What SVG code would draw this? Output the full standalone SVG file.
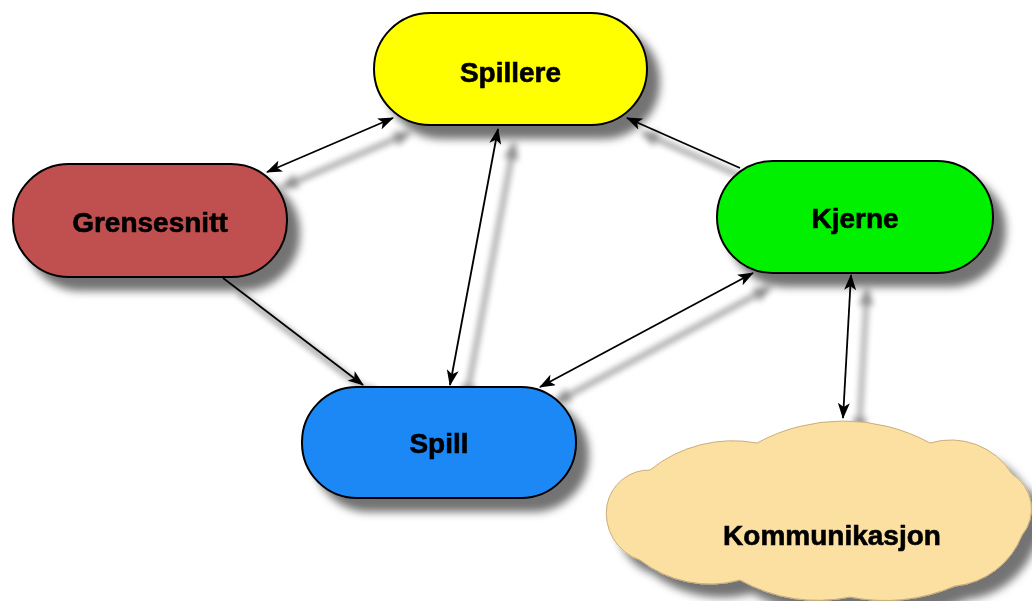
<svg xmlns="http://www.w3.org/2000/svg" width="1032" height="601" viewBox="0 0 1032 601">
  <defs>
    <filter id="shadow" x="-20%" y="-20%" width="150%" height="160%">
      <feDropShadow dx="12" dy="13" stdDeviation="4" flood-color="#000" flood-opacity="0.55"/>
    </filter>
    <filter id="lineShadow" x="-20%" y="-20%" width="150%" height="150%">
      <feMorphology in="SourceAlpha" operator="dilate" radius="1" result="thick"/>
      <feGaussianBlur in="thick" stdDeviation="3" result="blur"/>
      <feOffset in="blur" dx="16" dy="15" result="off"/>
      <feComponentTransfer in="off" result="soft">
        <feFuncA type="linear" slope="0.45"/>
      </feComponentTransfer>
      <feMerge>
        <feMergeNode in="soft"/>
        <feMergeNode in="SourceGraphic"/>
      </feMerge>
    </filter>
    <marker id="arrow" markerUnits="userSpaceOnUse" markerWidth="16" markerHeight="12" viewBox="0 0 16 12" refX="15" refY="6" orient="auto-start-reverse">
      <path d="M0,0 L16,6 L0,12 L4,6 z" fill="#000"/>
    </marker>
    <style>
      .pill { stroke: #000; stroke-width: 2; }
      .label { font-family: "Liberation Sans", Arial, sans-serif; font-weight: bold; font-size: 28px; fill: #000; stroke: #000; stroke-width: 0.6; text-anchor: middle; }
      .conn { stroke: #000; stroke-width: 1.8; fill: none; }
    </style>
  </defs>

  <rect width="1032" height="601" fill="#fff"/>

  <!-- connectors -->
  <g id="connectors" filter="url(#lineShadow)">
    <line class="conn" x1="267" y1="172" x2="393" y2="118" marker-start="url(#arrow)" marker-end="url(#arrow)"/>
    <line class="conn" x1="498" y1="129" x2="450" y2="385" marker-start="url(#arrow)" marker-end="url(#arrow)"/>
    <line class="conn" x1="223" y1="278" x2="363" y2="385" marker-end="url(#arrow)"/>
    <line class="conn" x1="740" y1="168" x2="627" y2="118" marker-end="url(#arrow)"/>
    <line class="conn" x1="540" y1="387" x2="753" y2="273" marker-start="url(#arrow)" marker-end="url(#arrow)"/>
    <line class="conn" x1="851" y1="275" x2="843" y2="418" marker-start="url(#arrow)" marker-end="url(#arrow)"/>
  </g>

  <!-- nodes -->
  <g id="spillere" filter="url(#shadow)">
    <rect class="pill" x="374" y="13" width="273" height="112" rx="56" fill="#ffff00"/>
    <text class="label" x="510.5" y="82">Spillere</text>
  </g>

  <g id="grensesnitt" filter="url(#shadow)">
    <rect class="pill" x="13" y="164" width="274" height="113" rx="56" fill="#c0504f"/>
    <text class="label" x="150" y="232">Grensesnitt</text>
  </g>

  <g id="kjerne" filter="url(#shadow)">
    <rect class="pill" x="717" y="161" width="276" height="112" rx="56" fill="#00f000"/>
    <text class="label" x="855" y="228">Kjerne</text>
  </g>

  <g id="spill" filter="url(#shadow)">
    <rect class="pill" x="302" y="387" width="274" height="111" rx="55" fill="#1c88f6"/>
    <text class="label" x="439" y="453">Spill</text>
  </g>

  <g id="kommunikasjon" filter="url(#shadow)">
    <path d="M650,470 A132,132 0 0 1 757,443 A181,181 0 0 1 930,443 A72,72 0 0 1 1012,474 A41,41 0 0 1 1022,535 A80,80 0 0 1 955,586 A180,180 0 0 1 850,597 A159,159 0 0 1 740,580 A114,114 0 0 1 640,560 A49,49 0 0 1 607,505 A43,43 0 0 1 650,470 Z" fill="#fce0a2" stroke="#c9ad7a" stroke-width="1"/>
    <text class="label" x="832" y="545">Kommunikasjon</text>
  </g>
</svg>
